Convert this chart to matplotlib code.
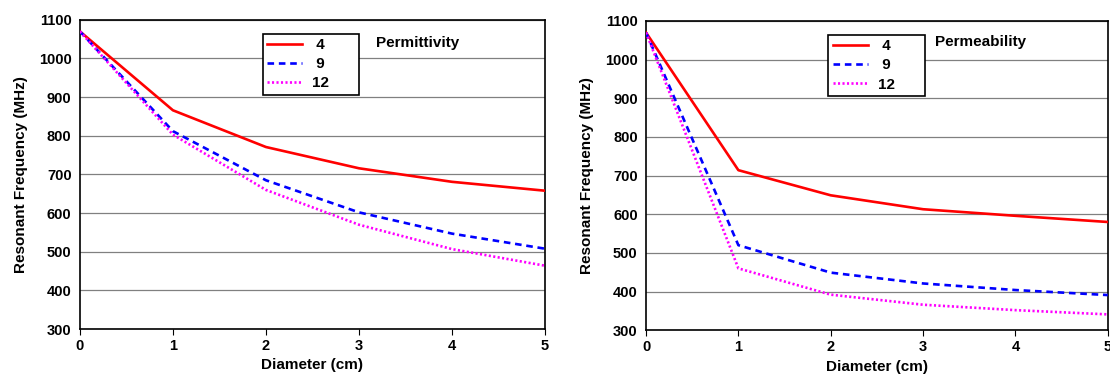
import matplotlib
matplotlib.use("Agg")
import matplotlib.pyplot as plt

plt.rcParams['font.family'] = ['Liberation Sans', 'DejaVu Sans']
plt.rcParams['font.weight'] = 'bold'

diameter = [0, 1, 2, 3, 4, 5]
series_labels = ["4", "9", "12"]

perm_4 = [1070, 866, 771, 716, 681, 658]
perm_9 = [1070, 812, 685, 602, 547, 508]
perm_12 = [1070, 803, 660, 570, 507, 464]

mu_4 = [1070, 714, 649, 613, 596, 580]
mu_9 = [1070, 520, 449, 421, 404, 391]
mu_12 = [1070, 460, 392, 366, 352, 341]

panel_titles = ["Permittivity", "Permeability"]

colors = ["#ff0000", "#0000ff", "#ff00ff"]
styles = ["-", (0, (2.5, 1.8)), (0, (0.8, 0.9))]

fig = plt.figure(figsize=(11.1, 3.74), dpi=100)
ax1 = fig.add_axes([0.072, 0.120, 0.419, 0.827])
ax2 = fig.add_axes([0.582, 0.117, 0.416, 0.827])


def pad_label(s):
    # center single digits within the width of two digits, add trailing room
    if len(s) == 1:
        s = "\u2008" + s + "\u2008"
    return s + "\u2007\u2007\u2007"


def draw(ax, data, title, leg_x, title_x, title_y):
    lines = []
    for vals, c, ls, lab in zip(data, colors, styles, series_labels):
        ln, = ax.plot(diameter, vals, color=c, linestyle=ls, linewidth=1.9,
                      label=lab, zorder=3)
        lines.append(ln)
    ax.set_xlim(0, 5)
    ax.set_ylim(300, 1100)
    ax.set_yticks(range(300, 1101, 100))
    ax.set_xticks(diameter)
    ax.yaxis.grid(True, color="#808080", linewidth=0.9)
    ax.set_axisbelow(True)
    ax.tick_params(axis='y', length=0, labelsize=10.5, pad=6)
    ax.tick_params(axis='x', direction='out', length=4, labelsize=10.5, pad=3)
    for lbl in ax.get_xticklabels() + ax.get_yticklabels():
        lbl.set_fontweight('bold')
    for sp in ax.spines.values():
        sp.set_color('black')
        sp.set_linewidth(1.2)
    ax.set_xlabel("Diameter (cm)", fontsize=11, fontweight='bold', labelpad=4)
    ax.set_ylabel("Resonant Frequency (MHz)", fontsize=11, fontweight='bold', labelpad=8)
    leg = ax.legend(handles=lines,
                    labels=[pad_label(s) for s in series_labels],
                    loc='upper left', bbox_to_anchor=(leg_x, 0.955),
                    frameon=True, fancybox=False, edgecolor='black',
                    framealpha=1, handlelength=2.3, handletextpad=0.65,
                    borderpad=0.3, labelspacing=0.33, borderaxespad=0,
                    prop={'weight': 'bold', 'size': 11})
    leg.get_frame().set_linewidth(1.2)
    ax.text(title_x, title_y, title, transform=ax.transAxes, fontsize=11,
            fontweight='bold', ha='left', va='center')


draw(ax1, [perm_4, perm_9, perm_12], panel_titles[0], 0.393, 0.637, 0.926)
draw(ax2, [mu_4, mu_9, mu_12], panel_titles[1], 0.394, 0.626, 0.932)

fig.savefig("out.png", dpi=100)
